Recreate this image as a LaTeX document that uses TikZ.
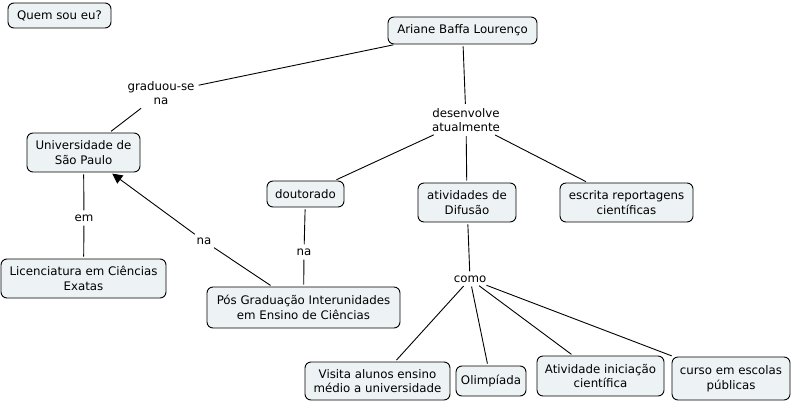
\documentclass[tikz,border=0pt]{standalone}
\usepackage{fontspec}
\setmainfont{DejaVu Sans}
\usetikzlibrary{arrows.meta,positioning}
\definecolor{conceptfill}{RGB}{237,243,245}

\begin{document}
\begin{tikzpicture}[x=1pt, y=-1pt, >={Triangle[length=10pt,width=10pt]},
  font=\fontsize{11.8}{14.5}\selectfont,
  concept/.style={draw, line width=0.9pt, rounded corners=6pt, fill=conceptfill,
    align=center, inner sep=2pt},
  linkword/.style={align=center, inner sep=2pt},
  link/.style={line width=0.9pt, shorten <=2pt, shorten >=2pt}]
  \useasboundingbox (0,0) rectangle (794,404);

  % Concepts
  \node[concept, minimum width=103, minimum height=25] (quem) at (59.5,15.5) {Quem sou eu?};
  \node[concept, minimum width=149, minimum height=27] (ariane) at (462.5,30.5) {Ariane Baffa Lourenço};
  \node[concept, minimum width=113, minimum height=39] (usp) at (83.5,152.5) {Universidade de\\São Paulo};
  \node[concept, minimum width=77, minimum height=26] (doutorado) at (305.5,194) {doutorado};
  \node[concept, minimum width=98, minimum height=39] (difusao) at (467,202.5) {atividades de\\Difusão};
  \node[concept, minimum width=133, minimum height=39] (escrita) at (626.5,202.5) {escrita reportagens\\científicas};
  \node[concept, minimum width=165, minimum height=39] (licenciatura) at (83.5,278.5) {Licenciatura em Ciências\\Exatas};
  \node[concept, minimum width=193, minimum height=41] (posgrad) at (303.5,307.5) {Pós Graduação Interunidades\\em Ensino de Ciências};
  \node[concept, minimum width=145, minimum height=38] (visita) at (377.5,381) {Visita alunos ensino\\médio a universidade};
  \node[concept, minimum width=70, minimum height=30] (olimpiada) at (491,381) {Olimpíada};
  \node[concept, minimum width=127, minimum height=40] (iniciacao) at (600.5,376) {Atividade iniciação\\científica};
  \node[concept, minimum width=118, minimum height=43] (escolas) at (731,378.5) {curso em escolas\\públicas};

  % Linking phrases
  \node[linkword] (graduou) at (161,93) {graduou-se\\na};
  \node[linkword] (desenvolve) at (466,120) {desenvolve\\atualmente};
  \node[linkword] (em) at (84,218) {em};
  \node[linkword] (na1) at (204,241) {na};
  \node[linkword] (na2) at (304,252) {na};
  \node[linkword] (como) at (470,279) {como};

  % Connectors
  \draw[link] (ariane) -- (graduou);
  \draw[link] (graduou) -- (usp);
  \draw[link] (usp) -- (em);
  \draw[link] (em) -- (licenciatura);
  \draw[link] (posgrad) -- (na1);
  \draw[link, ->] (na1) -- (usp);
  \draw[link] (doutorado) -- (na2);
  \draw[link] (na2) -- (posgrad);
  \draw[link] (ariane) -- (desenvolve);
  \draw[link] (desenvolve) -- (doutorado);
  \draw[link] (desenvolve) -- (difusao);
  \draw[link] (desenvolve) -- (escrita);
  \draw[link] (difusao) -- (como);
  \draw[link] (como) -- (visita);
  \draw[link] (como) -- (olimpiada);
  \draw[link] (como) -- (iniciacao);
  \draw[link] (como) -- (escolas);

\end{tikzpicture}
\end{document}
